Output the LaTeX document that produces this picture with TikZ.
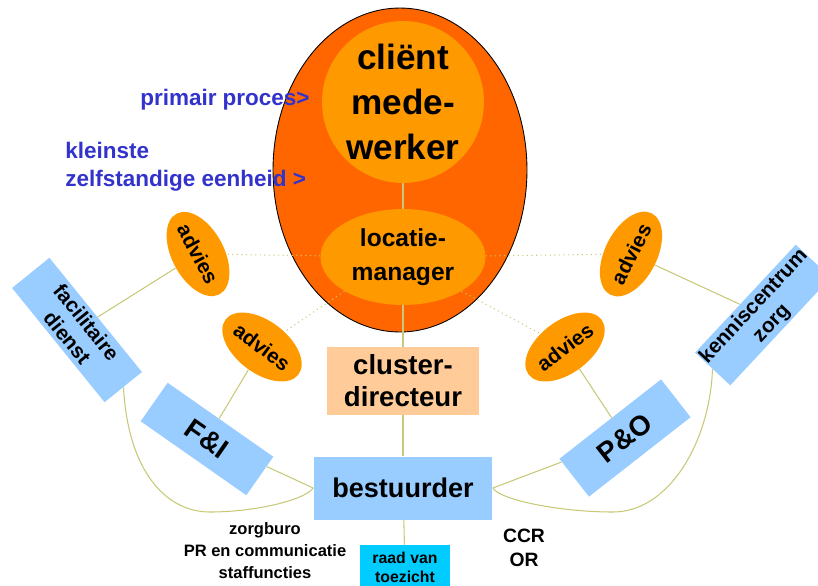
\documentclass[tikz,border=0pt]{standalone}
\usepackage{fontspec}
\setmainfont{Liberation Sans}
\usetikzlibrary{shapes.geometric}
\definecolor{kernorange}{HTML}{FF6600}
\definecolor{advorange}{HTML}{FF9900}
\definecolor{lichtblauw}{HTML}{99CCFF}
\definecolor{perzik}{HTML}{FFCC99}
\definecolor{cyaan}{HTML}{00CCFF}
\definecolor{olijf}{HTML}{C8C878}
\definecolor{tekstblauw}{HTML}{3333CC}
\begin{document}
\begin{tikzpicture}[x=0.02cm,y=-0.02cm,
    link/.style={draw=olijf,line width=0.6pt},
    dotlink/.style={draw=olijf,line width=0.6pt,dotted},
    advies/.style={ellipse,fill=advorange,inner sep=0pt,minimum width=1.82cm,minimum height=1.04cm,font=\fontsize{11.8}{14}\selectfont\bfseries},
    afdeling/.style={fill=lichtblauw,inner sep=0pt,align=center,minimum height=0.96cm,font=\fontsize{11.8}{14}\selectfont\bfseries}]
    \useasboundingbox (0,0) rectangle (818,585);

    \node[ellipse,draw=black,fill=kernorange,line width=0.5pt,minimum width=5.08cm,minimum height=6.48cm] (kern) at (400,170) {};
    \node[circle,fill=advorange,inner sep=0pt,minimum size=3.14cm,align=center,font=\fontsize{20}{25.6}\selectfont\bfseries] (client) at (403,102) {cliënt\\mede-\\werker};
    \node[ellipse,fill=advorange,inner sep=0pt,minimum width=3.3cm,minimum height=1.92cm,align=center,font=\fontsize{14}{19}\selectfont\bfseries] (loc) at (403,257) {locatie-\\manager};
    \node[fill=perzik,inner sep=0pt,minimum width=3.04cm,minimum height=1.36cm,align=center,font=\fontsize{15.7}{18.2}\selectfont\bfseries] (clus) at (403,381) {cluster-\\directeur};
    \node[fill=lichtblauw,inner sep=0pt,minimum width=3.58cm,minimum height=1.26cm,font=\fontsize{15.4}{18}\selectfont\bfseries] (best) at (403,488) {bestuurder};
    \node[fill=cyaan,inner sep=0pt,minimum width=1.8cm,minimum height=0.88cm,align=center,font=\fontsize{9}{10.8}\selectfont\bfseries] (raad) at (405,567) {raad van\\toezicht};

    % advies
    \node[advies,rotate=-62] (advLB) at (198,254) {advies};
    \node[advies,rotate=-37] (advLO) at (262,347) {advies};
    \node[advies,rotate=63] (advRB) at (631,254) {advies};
    \node[advies,rotate=37] (advRO) at (565,347) {advies};

    % afdelingen
    \node[afdeling,rotate=-51,minimum width=2.94cm] (facil) at (77,330) {facilitaire\\dienst};
    \node[afdeling,rotate=-35,minimum width=2.58cm,minimum height=0.94cm,font=\fontsize{16}{18}\selectfont\bfseries] (FI) at (207,439) {F\&I};
    \node[afdeling,rotate=38,minimum width=2.58cm,font=\fontsize{16}{18}\selectfont\bfseries] (PO) at (625,438) {P\&O};
    \node[afdeling,rotate=47,minimum width=2.9cm] (kennis) at (763,315) {kenniscentrum\\zorg};

    % lijnen
    \draw[link] (client) -- (loc);
    \draw[link] (loc) -- (clus);
    \draw[link] (clus) -- (best);
    \draw[link] (best) -- (raad);
    \draw[dotlink] (loc) -- (advLB);
    \draw[dotlink] (loc) -- (advRB);
    \draw[dotlink] (loc.south west) -- (advLO);
    \draw[dotlink] (loc.south east) -- (advRO);
    \draw[link] (advLB) -- (facil);
    \draw[link] (advLO) -- (FI);
    \draw[link] (advRB) -- (kennis);
    \draw[link] (advRO) -- (PO);
    \draw[link] (FI) -- (best.west);
    \draw[link] (PO) -- (best.east);
    \draw[link] (facil.east) .. controls (128,470) and (165,512) .. (210,512) .. controls (255,512) and (305,500) .. (best.west);
    \draw[link] (kennis.west) .. controls (710,440) and (670,512) .. (613,512) .. controls (560,512) and (500,500) .. (best.east);

    % teksten
    \node[anchor=east,text=tekstblauw,inner sep=0pt,font=\fontsize{12.8}{16}\selectfont\bfseries] (primair) at (310,100) {primair proces>};
    \node[anchor=west,text=tekstblauw,inner sep=0pt,align=left,font=\fontsize{12.8}{16}\selectfont\bfseries] (eenheid) at (65,167) {kleinste\\zelfstandige eenheid >};
    \node[inner sep=0pt,align=center,font=\fontsize{9.4}{12.5}\selectfont\bfseries] (staf) at (265,551) {zorgburo\\PR en communicatie\\staffuncties};
    \node[inner sep=0pt,align=center,font=\fontsize{11}{13.7}\selectfont\bfseries] (ccr) at (524,548) {CCR\\OR};
\end{tikzpicture}
\end{document}
